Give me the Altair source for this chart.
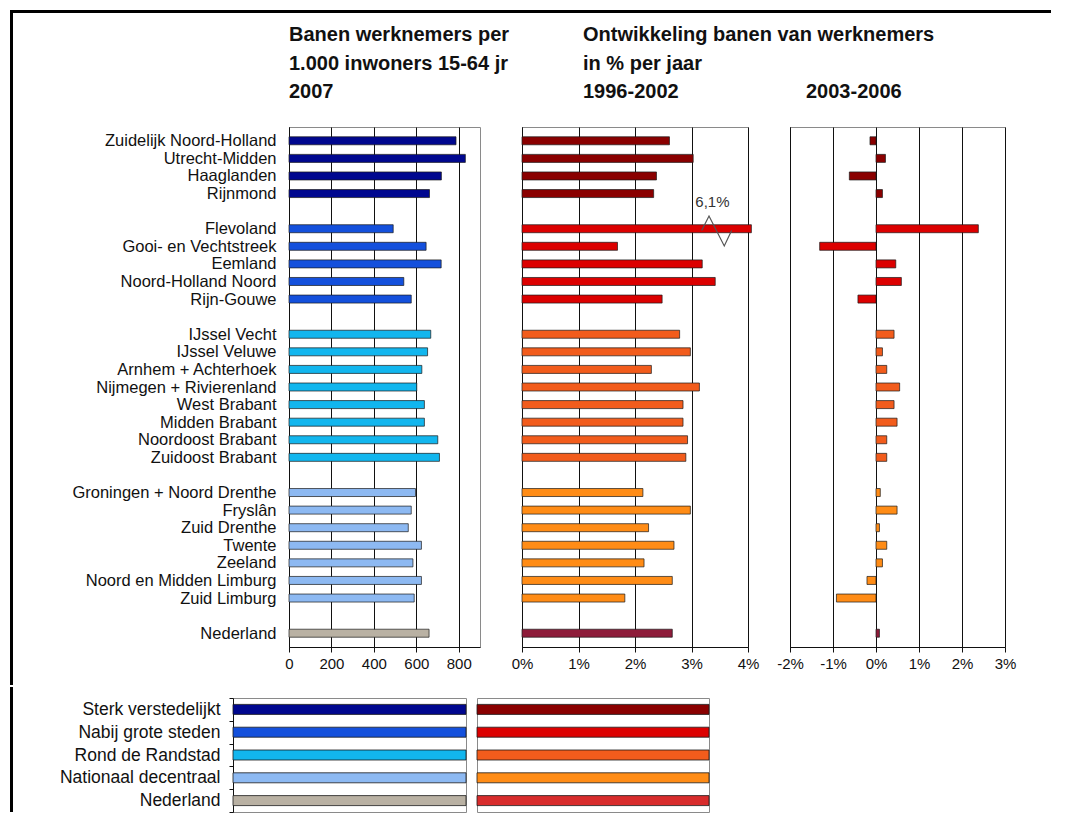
import json
import altair as alt
import pandas as pd

FONT = "Liberation Sans"

# ---------------- data ----------------
regions = [
    "Zuidelijk Noord-Holland", "Utrecht-Midden", "Haaglanden", "Rijnmond",
    "Flevoland", "Gooi- en Vechtstreek", "Eemland", "Noord-Holland Noord", "Rijn-Gouwe",
    "IJssel Vecht", "IJssel Veluwe", "Arnhem + Achterhoek", "Nijmegen + Rivierenland",
    "West Brabant", "Midden Brabant", "Noordoost Brabant", "Zuidoost Brabant",
    "Groningen + Noord Drenthe", "Fryslân", "Zuid Drenthe", "Twente", "Zeeland",
    "Noord en Midden Limburg", "Zuid Limburg",
    "Nederland",
]
region_group = ["g1"] * 4 + ["g2"] * 5 + ["g3"] * 8 + ["g4"] * 7 + ["nl"]

banen_2007 = [787, 831, 718, 662,
              491, 646, 717, 541, 576,
              668, 653, 626, 602, 638, 638, 701, 709,
              596, 576, 562, 624, 584, 624, 590,
              660]
groei_1996_2002 = [2.61, 3.03, 2.38, 2.33,
                   6.1, 1.69, 3.19, 3.42, 2.48,
                   2.79, 2.98, 2.29, 3.14, 2.85, 2.85, 2.93, 2.90,
                   2.14, 2.98, 2.24, 2.69, 2.16, 2.66, 1.82,
                   2.66]
groei_2003_2006 = [-0.14, 0.22, -0.62, 0.15,
                   2.38, -1.31, 0.46, 0.59, -0.42,
                   0.42, 0.15, 0.25, 0.55, 0.42, 0.49, 0.25, 0.25,
                   0.10, 0.49, 0.08, 0.25, 0.15, -0.21, -0.92,
                   0.08]

group_keys = ["g1", "g2", "g3", "g4", "nl"]
group_names = ["Sterk verstedelijkt", "Nabij grote steden", "Rond de Randstad",
               "Nationaal decentraal", "Nederland"]
blue_fill = ["#00078F", "#1450DC", "#12B6EE", "#8DB9F2", "#B9B1A3"]
red_fill_bars = ["#8A0000", "#DC0000", "#F25C1C", "#FF8C16", "#8E1C3A"]
red_fill_legend = ["#8A0000", "#DC0000", "#F25C1C", "#FF8C16", "#D82C2C"]
legend_swatch = [1, 1, 1, 1, 1]

ticks_banen = [0, 200, 400, 600, 800]
ticks_9602 = [0, 1, 2, 3, 4]
ticks_0306 = [-2, -1, 0, 1, 2, 3]

note_text = ["6,1%"]
note_x = [3.37]
note_dy = [-1.5]
break_x = [3.18, 3.31, 3.58, 3.71]
break_dy = [0.1, -0.72, 0.98, 0.1]

# ---------------- derived tables ----------------
slots = []
s = 0
prev = None
for g in region_group:
    if prev is not None and g != prev:
        s += 1
    slots.append(s)
    s += 1
    prev = g
n_slots = s

blue_map = dict(zip(group_keys, blue_fill))
red_map = dict(zip(group_keys, red_fill_bars))

df = pd.DataFrame({
    "regio": regions,
    "groep": region_group,
    "pos": [v + 0.5 for v in slots],
    "b2007": banen_2007,
    "g9602": groei_1996_2002,
    "g0306": groei_2003_2006,
    "blue": [blue_map[g] for g in region_group],
    "red": [red_map[g] for g in region_group],
})

slot_labels = [""] * n_slots
for name, sl in zip(regions, slots):
    slot_labels[sl] = name
label_expr = json.dumps(slot_labels, ensure_ascii=False) + "[floor(datum.value)]"
pos_values = [v + 0.5 for v in slots]

flevo_pos = df.loc[df.regio == "Flevoland", "pos"].iloc[0]
break_df = pd.DataFrame({"x": break_x, "y": [flevo_pos + d for d in break_dy],
                         "o": list(range(len(break_x)))})
note_df = pd.DataFrame({"x": note_x, "y": [flevo_pos + d for d in note_dy], "t": note_text})

legend_df = pd.DataFrame({
    "cat": group_names,
    "v": legend_swatch,
    "blue": blue_fill,
    "red": red_fill_legend,
})

# ---------------- geometry ----------------
H = 520
W1, W2, W3 = 191, 226, 215
yscale = alt.Scale(domain=[0, n_slots], reverse=True, nice=False, zero=False)
bar_kw = dict(orient="horizontal", size=8, stroke="#1a1a1a", strokeWidth=0.7)


def title(lines, dx=0):
    return alt.TitleParams(lines, anchor="start", frame="group", fontSize=20,
                           fontWeight="bold", font=FONT, lineHeight=28.5, offset=25,
                           color="#111111", dx=dx)


def x_axis(values, expr=None):
    kw = dict(values=values, title=None, grid=True, labelFlush=False, tickSize=5,
              labelPadding=4, labelFontSize=15)
    if expr:
        kw["labelExpr"] = expr
    return alt.Axis(**kw)


# Panel 1
panel1 = alt.Chart(df).mark_bar(**bar_kw).encode(
    x=alt.X("b2007:Q", stack=None, scale=alt.Scale(domain=[0, 900], nice=False),
            axis=x_axis(ticks_banen)),
    y=alt.Y("pos:Q", scale=yscale,
            axis=alt.Axis(values=pos_values, labelExpr=label_expr, title=None, ticks=False,
                          grid=False, labelOverlap=False, labelPadding=13, labelLimit=0,
                          labelFontSize=16.5, labelFlush=False)),
    color=alt.Color("blue:N", scale=None),
).properties(width=W1, height=H,
             title=title(["Banen werknemers per", "1.000 inwoners 15-64 jr", "2007"]))

# Panel 2
yaxis_plain = alt.Axis(labels=False, ticks=False, grid=False, title=None, domain=True)
p2_bars = alt.Chart(df).transform_calculate(
    disp="min(datum.g9602, 4.06)"
).mark_bar(clip=False, **bar_kw).encode(
    x=alt.X("disp:Q", stack=None, scale=alt.Scale(domain=[0, 4], nice=False),
            axis=x_axis(ticks_9602, "datum.value + '%'")),
    y=alt.Y("pos:Q", scale=yscale, axis=yaxis_plain),
    color=alt.Color("red:N", scale=None),
)
p2_zig = alt.Chart(break_df).mark_line(color="#555555", strokeWidth=1.2).encode(
    x=alt.X("x:Q", title=None), y=alt.Y("y:Q", title=None), order="o:Q")
p2_note = alt.Chart(note_df).mark_text(font=FONT, fontSize=15, color="#333333").encode(
    x=alt.X("x:Q", title=None), y=alt.Y("y:Q", title=None), text="t:N")
panel2 = alt.layer(p2_bars, p2_zig, p2_note).properties(
    width=W2, height=H,
    title=title(["Ontwikkeling banen van werknemers", "in % per jaar", "1996-2002"], dx=61))

# Panel 3
panel3 = alt.Chart(df).mark_bar(**bar_kw).encode(
    x=alt.X("g0306:Q", stack=None, scale=alt.Scale(domain=[-2, 3], nice=False, zero=False),
            axis=x_axis(ticks_0306, "datum.value + '%'")),
    y=alt.Y("pos:Q", scale=yscale, axis=yaxis_plain),
    color=alt.Color("red:N", scale=None),
).properties(width=W3, height=H, title=title("2003-2006", dx=16))

# Page frame (thick black border, top and left), drawn as filled strips from a spacer cell
dummy = pd.DataFrame({"a": [0]})
SPW = 14
SPX = 288 - 42 - SPW          # spacer origin, page x
SPY = 126                     # plot top, page y
FX0, FX1 = 9, 12              # frame strip, page x
FY0, FY1 = 9, 12              # frame strip, page y
JOIN = 684                    # page y where the two frame pieces meet
frame_left = alt.Chart(dummy).mark_rect(color="#000000").encode(
    x=alt.value(FX0 - SPX), x2=alt.value(FX1 - SPX),
    y=alt.value(FY0 - SPY), y2=alt.value(JOIN - SPY))
frame_top = alt.Chart(dummy).mark_rect(color="#000000").encode(
    x=alt.value(FX0 - SPX), x2=alt.value(1050 - SPX),
    y=alt.value(FY0 - SPY), y2=alt.value(FY1 - SPY))
spacer = alt.layer(frame_left, frame_top).properties(
    width=SPW, height=H, view=alt.ViewBackground(stroke="transparent"))

row1 = alt.hconcat(spacer, panel1, panel2, panel3, spacing=42, bounds="flush")

# Legend panels
LH = 114
LY = 695
leg_y = alt.Scale(paddingInner=0, paddingOuter=0)
leg_x = alt.X("v:Q", scale=alt.Scale(domain=[0, 1], nice=False), axis=None)
leg1_bars = alt.Chart(legend_df).mark_bar(size=10, stroke="#1a1a1a", strokeWidth=0.8).encode(
    x=leg_x,
    y=alt.Y("cat:N", sort=group_names, scale=leg_y,
            axis=alt.Axis(title=None, tickBand="extent", tickSize=4, labelPadding=9,
                          labelFontSize=17.5, grid=False, labelFont=FONT, labelLimit=0)),
    color=alt.Color("blue:N", scale=None),
)
LX = SPX
leg_frame = alt.Chart(dummy).mark_rect(color="#000000").encode(
    x=alt.value(FX0 - LX), x2=alt.value(FX1 - LX),
    y=alt.value(JOIN - LY), y2=alt.value(LH))
leg1 = alt.layer(leg1_bars, leg_frame).properties(width=465 - LX, height=LH)

leg2 = alt.Chart(legend_df).mark_bar(size=10, stroke="#1a1a1a", strokeWidth=0.8).encode(
    x=leg_x,
    y=alt.Y("cat:N", sort=group_names, scale=leg_y, axis=None),
    color=alt.Color("red:N", scale=None),
).properties(width=232, height=LH)

row2 = alt.hconcat(leg1, leg2, spacing=11, bounds="flush")

chart = alt.vconcat(row1, row2, spacing=0).properties(
    padding={"left": 1, "top": 1, "right": 0, "bottom": 0}
).configure_axis(
    labelFont=FONT, labelColor="#111111", domainColor="#111111", tickColor="#111111",
    gridColor="#111111", gridOpacity=1, gridWidth=1, domainWidth=1, tickWidth=1,
).configure_view(stroke="#8a8a8a", strokeWidth=1)

chart.save("out.html", embed_options={"renderer": "svg", "actions": False})
